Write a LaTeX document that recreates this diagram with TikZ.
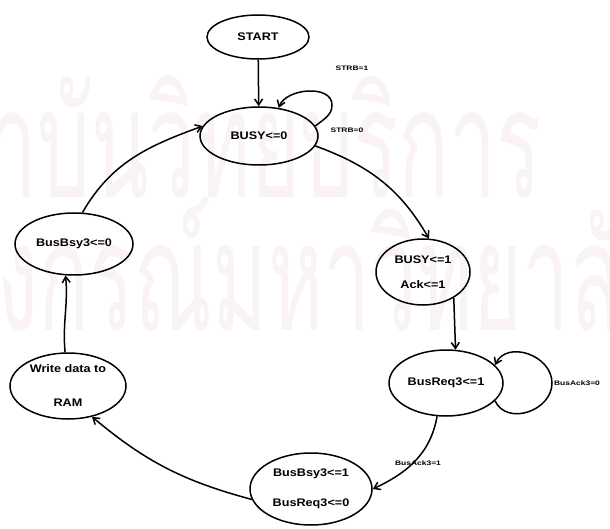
\documentclass[tikz,border=0pt]{standalone}
\usepackage{fontspec}
\setmainfont{Liberation Sans}
\newfontfamily\thaifont[Script=Thai]{Loma}
\usetikzlibrary{arrows.meta,shapes.geometric}
\definecolor{wmark}{RGB}{249,242,247}
\tikzset{
  state/.style={draw,ellipse,line width=1.5pt,inner sep=0pt},
  stext/.style={inner sep=0pt,align=center,xscale=1.15,transform shape,
    font=\bfseries\fontsize{11}{#1}\selectfont},
  stext/.default=24,
  cond/.style={inner sep=0pt,xscale=1.3,transform shape,
    font=\bfseries\fontsize{6.5}{7}\selectfont},
  wmtext/.style={text=wmark,inner sep=0pt,xscale=0.6,yscale=1.08,transform shape,
    font=\thaifont\fontsize{140}{140}\selectfont},
}
\begin{document}
\begin{tikzpicture}[x=1pt,y=1pt,>={Straight Barb[length=6pt,width=8pt]},line width=1.5pt]
  \useasboundingbox (0,0) rectangle (610,528);

  % background watermark
  \begin{scope}
    \clip (0,0) rectangle (610,528);
    \node[wmtext,anchor=base west] (wm1) at (-112,330) {สถาบันวิทยบริการ};
    \node[wmtext,anchor=base west] (wm2) at (-208,198) {จุฬาลงกรณ์มหาวิทยาลัย};
  \end{scope}

  % states
  \node[state,minimum width=102pt,minimum height=44pt] (start) at (258,491) {};
  \node[state,minimum width=118pt,minimum height=58pt] (busy0) at (259,392) {};
  \node[state,minimum width=94pt,minimum height=66pt] (busy1) at (423,256) {};
  \node[state,minimum width=114pt,minimum height=66pt] (req1) at (446,145) {};
  \node[state,minimum width=122pt,minimum height=72pt] (bsy1) at (311,39) {};
  \node[state,minimum width=116pt,minimum height=66pt] (write) at (68,142) {};
  \node[state,minimum width=118pt,minimum height=62pt] (bsy0) at (74,284) {};

  % state texts
  \node[stext] (startt) at (start) {START};
  \node[stext] (busy0t) at (busy0) {BUSY<=0};
  \node[stext=25] (busy1t) at (busy1) {BUSY<=1\\Ack<=1};
  \node[stext] (req1t) at (req1) {BusReq3<=1};
  \node[stext=30] (bsy1t) at (bsy1) {BusBsy3<=1\\BusReq3<=0};
  \node[stext=34] (writet) at (write) {Write data to\\RAM};
  \node[stext] (bsy0t) at (bsy0) {BusBsy3<=0};

  % transitions
  \draw[->] (start) -- (busy0);
  \coordinate (busyloop) at (332,423);
  \draw[->] (busy0.10) to[out=40,in=-90] (busyloop) to[out=90,in=70] (busy0.55);
  \node[cond] (strb1) at (352,460) {STRB=1};
  \draw[->] (busy0.-10) to[out=-20,in=120] (busy1.80);
  \node[cond] (strb0) at (347,398) {STRB=0};
  \draw[->] (busy1.-40) to[out=-88,in=92] (req1.74);
  \coordinate (reqloop) at (552,145);
  \draw[->] (req1.-20) to[out=-65,in=-90,looseness=1.2] (reqloop)
    to[out=90,in=65,looseness=1.2] (req1.20);
  \node[cond] (ack0) at (577,145) {BusAck3=0};
  \draw[->] (req1.-105) to[out=-100,in=25] (bsy1.0);
  \node[cond] (ack1) at (418,65) {BusAck3=1};
  \draw[->] (bsy1.190) to[out=165,in=-40] (write.-52);
  \draw[->] (write.95) to[out=95,in=-85] (bsy0.-105);
  \draw[->] (bsy0.75) to[out=60,in=200] (busy0.170);
\end{tikzpicture}
\end{document}
